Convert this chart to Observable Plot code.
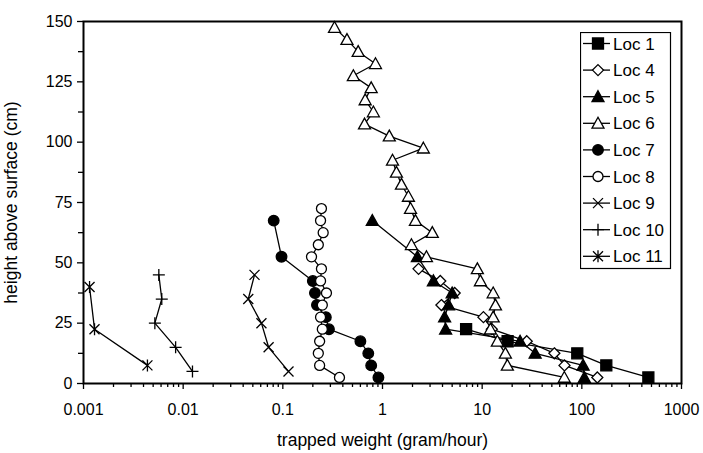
<!DOCTYPE html>
<html>
<head>
<meta charset="utf-8">
<script src="https://cdn.jsdelivr.net/npm/d3@7"></script>
<script src="https://cdn.jsdelivr.net/npm/@observablehq/plot@0.6"></script>
<style>
  body { margin: 0; background: #fff; font-family: "Liberation Sans", Arial, sans-serif; }
  #chart { position: relative; width: 703px; height: 453px; }
  #legend { position: absolute; left: 580px; top: 32px; }
  #chart g[aria-label="x-axis label"], #chart g[aria-label="y-axis label"] { font-size: 17.5px; }
</style>
</head>
<body>
<div id="chart"></div>
<script>
// Trapped sediment weight (gram/hour) against trap height above the surface (cm)
const loc1Height = [22.5, 17.5, 12.5, 7.5, 2.5];
const loc1Weight = [6.9, 18, 90, 176, 465];

const loc4Height = [47.5, 42.5, 37.5, 32.5, 27.5, 22.5, 17.5, 12.5, 7.5, 2.5];
const loc4Weight = [2.3, 3.8, 5.3, 3.9, 10.3, 12.5, 28, 53, 67, 143];

const loc5Height = [67.5, 52.5, 42.5, 37.5, 32.5, 27.5, 22.5, 17.5, 12.5, 7.5, 2.5];
const loc5Weight = [0.79, 2.24, 3.24, 5.0, 4.6, 4.2, 4.3, 24, 34, 103, 106];

const loc6Height = [147.5, 142.5, 137.5, 132.5, 127.5, 122.5, 117.5, 112.5, 107.5, 102.5,
                    97.5, 92.5, 87.5, 82.5, 77.5, 72.5, 67.5, 62.5, 57.5, 52.5,
                    47.5, 42.5, 37.5, 32.5, 27.5, 22.5, 17.5, 12.5, 7.5, 2.5];
const loc6Weight = [0.33, 0.44, 0.57, 0.85, 0.51, 0.77, 0.67, 0.81, 0.66, 1.17,
                    2.57, 1.26, 1.38, 1.55, 1.82, 1.91, 2.14, 3.16, 1.95, 2.76,
                    8.95, 9.6, 12.9, 13.6, 12.9, 12.1, 14.2, 17.1, 17.9, 66.7];

const loc7Height = [67.5, 52.5, 42.5, 37.5, 32.5, 27.5, 22.5, 17.5, 12.5, 7.5, 2.5];
const loc7Weight = [0.081, 0.097, 0.20, 0.21, 0.22, 0.27, 0.29, 0.60, 0.72, 0.77, 0.91];

const loc8Height = [72.5, 67.5, 62.5, 57.5, 52.5, 47.5, 42.5, 37.5, 32.5, 27.5, 22.5, 17.5, 12.5, 7.5, 2.5];
const loc8Weight = [0.244, 0.239, 0.254, 0.227, 0.194, 0.244, 0.239, 0.274, 0.249, 0.239, 0.249, 0.234, 0.227, 0.234, 0.37];

const loc9Height = [45, 35, 25, 15, 5];
const loc9Weight = [0.052, 0.045, 0.061, 0.072, 0.114];

const loc10Height = [45, 35, 25, 15, 5];
const loc10Weight = [0.0057, 0.0061, 0.0052, 0.0084, 0.0124];

const loc11Height = [40, 22.5, 7.5];
const loc11Weight = [0.00115, 0.00129, 0.00438];

const xTicks = [0.001, 0.01, 0.1, 1, 10, 100, 1000];
const xTickLabels = ["0.001", "0.01", "0.1", "1", "10", "100", "1000"];
const yTicks = [0, 25, 50, 75, 100, 125, 150];
const yTickLabels = ["0", "25", "50", "75", "100", "125", "150"];

// Marker shapes; r is the half-extent of each shape
const rOf = s => Math.sqrt(s / Math.PI);
const squareSym = { draw(c, s) { const r = rOf(s); c.rect(-r, -r, 2 * r, 2 * r); } };
const diamondSym = { draw(c, s) { const r = rOf(s); c.moveTo(0, -r); c.lineTo(r, 0); c.lineTo(0, r); c.lineTo(-r, 0); c.closePath(); } };
const triangleSym = { draw(c, s) { const r = rOf(s); c.moveTo(0, -r); c.lineTo(r, r * 0.8); c.lineTo(-r, r * 0.8); c.closePath(); } };
const circleSym = { draw(c, s) { const r = rOf(s); c.moveTo(r, 0); c.arc(0, 0, r, 0, 2 * Math.PI); c.closePath(); } };
const timesSym = { draw(c, s) { const r = rOf(s); c.moveTo(-r, -r); c.lineTo(r, r); c.moveTo(-r, r); c.lineTo(r, -r); } };
const plusSym = { draw(c, s) { const r = rOf(s); c.moveTo(-r, 0); c.lineTo(r, 0); c.moveTo(0, -r); c.lineTo(0, r); } };
const starSym = { draw(c, s) { const r = rOf(s); c.moveTo(-r, -r); c.lineTo(r, r); c.moveTo(-r, r); c.lineTo(r, -r); c.moveTo(0, -r * 1.2); c.lineTo(0, r * 1.2); } };

const series = [
  { name: "Loc 1", h: loc1Height, w: loc1Weight, symbol: squareSym, r: 5.5, fill: "black" },
  { name: "Loc 4", h: loc4Height, w: loc4Weight, symbol: diamondSym, r: 5.5, fill: "white" },
  { name: "Loc 5", h: loc5Height, w: loc5Weight, symbol: triangleSym, r: 6, fill: "black" },
  { name: "Loc 6", h: loc6Height, w: loc6Weight, symbol: triangleSym, r: 6, fill: "white" },
  { name: "Loc 7", h: loc7Height, w: loc7Weight, symbol: circleSym, r: 5.3, fill: "black" },
  { name: "Loc 8", h: loc8Height, w: loc8Weight, symbol: circleSym, r: 5, fill: "white" },
  { name: "Loc 9", h: loc9Height, w: loc9Weight, symbol: timesSym, r: 5, fill: "none" },
  { name: "Loc 10", h: loc10Height, w: loc10Weight, symbol: plusSym, r: 6, fill: "none" },
  { name: "Loc 11", h: loc11Height, w: loc11Weight, symbol: starSym, r: 5, fill: "none" }
];

const rows = series.map(s => s.h.map((h, i) => ({ loc: s.name, height: h, weight: s.w[i] })));

// Minor ticks: 2..9 within each decade, and halfway between labelled heights
const xMinor = d3.range(-3, 3).flatMap(e => d3.range(2, 10).map(m => m * Math.pow(10, e)));
const yMinor = d3.range(12.5, 150, 25);

const marks = [
  Plot.frame({ stroke: "black", strokeWidth: 2 }),
  Plot.axisX(xMinor, { tickSize: 4, strokeWidth: 1.3, tickFormat: () => "", label: null }),
  Plot.axisX(xTicks, {
    tickSize: 6, tickPadding: 14, strokeWidth: 1.3,
    tickFormat: d => xTickLabels[xTicks.indexOf(d)],
    label: "trapped weight (gram/hour)", labelAnchor: "center", labelOffset: 62, labelArrow: "none"
  }),
  Plot.axisY(yMinor, { tickSize: 5, strokeWidth: 1.3, tickFormat: () => "", label: null }),
  Plot.axisY(yTicks, {
    tickSize: 6, tickPadding: 5, strokeWidth: 1.3,
    tickFormat: d => yTickLabels[yTicks.indexOf(d)],
    label: "height above surface (cm)", labelAnchor: "center", labelOffset: 79, labelArrow: "none"
  })
];

series.forEach((s, k) => {
  marks.push(Plot.line(rows[k], { x: "weight", y: "height", stroke: "black", strokeWidth: 1.3 }));
  marks.push(Plot.dot(rows[k], {
    x: "weight", y: "height", symbol: s.symbol, r: s.r,
    fill: s.fill, stroke: "black", strokeWidth: 1.3
  }));
});

const chart = Plot.plot({
  width: 703,
  height: 453,
  marginLeft: 83,
  marginRight: 22,
  marginTop: 21,
  marginBottom: 70,
  style: { fontFamily: "Liberation Sans, Arial, sans-serif", fontSize: "16px", color: "black", background: "white" },
  x: { type: "log", domain: [0.001, 1000] },
  y: { domain: [0, 150] },
  marks
});

const host = document.getElementById("chart");
host.appendChild(chart);

// Legend box inside the plot area
const leg = d3.create("svg").attr("id", "legend").attr("width", 92).attr("height", 238);
leg.append("rect").attr("x", 0.5).attr("y", 0.5).attr("width", 90).attr("height", 236)
  .attr("fill", "white").attr("stroke", "black").attr("stroke-width", 1.2);
series.forEach((s, i) => {
  const g = leg.append("g").attr("transform", `translate(0,${11.5 + i * 26.6})`);
  g.append("line").attr("x1", 3).attr("x2", 30).attr("stroke", "black").attr("stroke-width", 1.3);
  g.append("path").attr("transform", "translate(18,0)")
    .attr("d", d3.symbol(s.symbol, s.r * s.r * Math.PI)())
    .attr("fill", s.fill).attr("stroke", "black").attr("stroke-width", 1.3);
  g.append("text").attr("x", 33).attr("dy", "0.36em")
    .attr("font-family", "Liberation Sans, Arial, sans-serif").attr("font-size", 17)
    .attr("fill", "black").text(s.name);
});
host.appendChild(leg.node());
</script>
</body>
</html>
